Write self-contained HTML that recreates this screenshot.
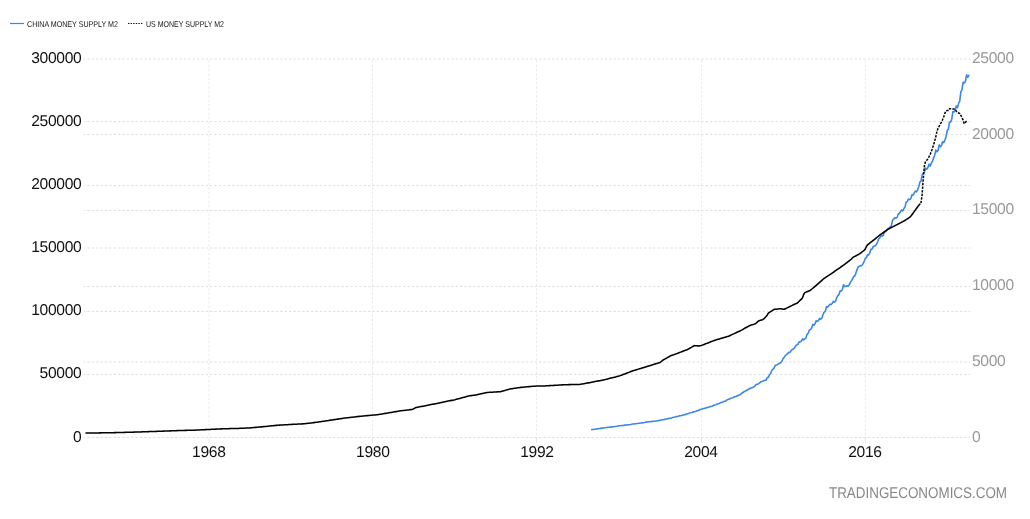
<!DOCTYPE html>
<html><head><meta charset="utf-8"><title>China Money Supply M2 vs US Money Supply M2</title>
<style>
html,body{margin:0;padding:0;background:#fff;}
body{width:1030px;height:519px;overflow:hidden;position:relative;}
svg{position:absolute;left:0;top:0;}
text{font-family:"Liberation Sans",Arial,sans-serif;text-rendering:geometricPrecision;}
.la{font-size:15.6px;fill:#111;text-anchor:end;letter-spacing:-0.3px;}
.ra{font-size:15.6px;fill:#999;text-anchor:start;letter-spacing:-0.3px;}
.xa{font-size:15.6px;fill:#111;text-anchor:middle;letter-spacing:-0.3px;}
.lg{font-size:8.4px;fill:#111;}
.wm{font-size:15.5px;fill:#888;}
</style></head>
<body>
<svg width="1030" height="519" viewBox="0 0 1030 519">
<g stroke="#dfdfdf" stroke-width="1" stroke-dasharray="2.4,1.985" stroke-dashoffset="0.9" fill="none">
<line x1="83.8" y1="59.00" x2="970.1" y2="59.00"/>
<line x1="83.8" y1="121.50" x2="970.1" y2="121.50"/>
<line x1="83.8" y1="134.50" x2="970.1" y2="134.50"/>
<line x1="83.8" y1="185.50" x2="970.1" y2="185.50"/>
<line x1="83.8" y1="210.50" x2="970.1" y2="210.50"/>
<line x1="83.8" y1="248.00" x2="970.1" y2="248.00"/>
<line x1="83.8" y1="286.50" x2="970.1" y2="286.50"/>
<line x1="83.8" y1="311.50" x2="970.1" y2="311.50"/>
<line x1="83.8" y1="362.00" x2="970.1" y2="362.00"/>
<line x1="83.8" y1="374.50" x2="970.1" y2="374.50"/>
<line x1="83.8" y1="437.50" x2="970.1" y2="437.50"/>
</g>
<g stroke="#ebebeb" stroke-width="1" stroke-dasharray="2.4,1.985" stroke-dashoffset="-1.1" fill="none">
<line x1="209.00" y1="59" x2="209.00" y2="437.5"/>
<line x1="372.50" y1="59" x2="372.50" y2="437.5"/>
<line x1="536.50" y1="59" x2="536.50" y2="437.5"/>
<line x1="701.50" y1="59" x2="701.50" y2="437.5"/>
<line x1="865.30" y1="59" x2="865.30" y2="437.5"/>
</g>
<g stroke="#e4e4e4" stroke-width="1" fill="none">
<line x1="209.00" y1="438" x2="209.00" y2="443"/>
<line x1="372.50" y1="438" x2="372.50" y2="443"/>
<line x1="536.50" y1="438" x2="536.50" y2="443"/>
<line x1="701.50" y1="438" x2="701.50" y2="443"/>
<line x1="865.30" y1="438" x2="865.30" y2="443"/>
</g>
<path d="M591.78 429.64 L592.92 429.49 L594.06 429.33 L595.20 429.17 L596.34 429.01 L597.48 428.85 L598.62 428.68 L599.75 428.51 L600.89 428.34 L602.03 428.16 L603.17 427.98 L604.31 427.80 L605.45 427.68 L606.59 427.57 L607.73 427.36 L608.87 427.29 L610.01 427.18 L611.15 426.90 L612.29 426.84 L613.42 426.71 L614.56 426.48 L615.70 426.44 L616.84 426.24 L617.98 425.92 L619.12 425.80 L620.26 425.71 L621.40 425.51 L622.54 425.45 L623.68 425.35 L624.82 425.09 L625.96 425.04 L627.09 424.92 L628.23 424.71 L629.37 424.68 L630.51 424.50 L631.65 424.21 L632.79 424.08 L633.93 423.97 L635.07 423.75 L636.21 423.68 L637.35 423.56 L638.49 423.27 L639.62 423.22 L640.76 423.08 L641.90 422.84 L643.04 422.80 L644.18 422.60 L645.32 422.27 L646.46 422.15 L647.60 422.04 L648.74 421.82 L649.88 421.75 L651.02 421.64 L652.16 421.37 L653.30 421.31 L654.43 421.18 L655.57 420.95 L656.71 420.92 L657.85 420.72 L658.99 420.41 L660.13 420.22 L661.27 420.05 L662.41 419.71 L663.55 419.60 L664.69 419.42 L665.83 418.98 L666.97 418.89 L668.10 418.68 L669.24 418.31 L670.38 418.25 L671.52 417.93 L672.66 417.42 L673.80 417.20 L674.94 417.01 L676.08 416.63 L677.22 416.50 L678.36 416.30 L679.50 415.80 L680.63 415.70 L681.77 415.46 L682.91 415.05 L684.05 414.98 L685.19 414.63 L686.33 414.05 L687.47 413.76 L688.61 413.50 L689.75 412.99 L690.89 412.81 L692.03 412.55 L693.17 411.87 L694.31 411.73 L695.44 411.41 L696.58 410.85 L697.72 410.75 L698.86 410.27 L700.00 409.48 L701.14 409.21 L702.28 408.98 L703.42 408.50 L704.56 408.34 L705.70 408.10 L706.84 407.48 L707.98 407.36 L709.11 407.06 L710.25 406.55 L711.39 406.47 L712.53 406.04 L713.67 405.33 L714.81 404.97 L715.95 404.65 L717.09 404.01 L718.23 403.79 L719.37 403.46 L720.51 402.63 L721.64 402.46 L722.78 402.06 L723.92 401.36 L725.06 401.25 L726.20 400.66 L727.34 399.69 L728.48 399.31 L729.62 398.97 L730.76 398.29 L731.90 398.07 L733.04 397.72 L734.18 396.85 L735.32 396.67 L736.45 396.25 L737.59 395.53 L738.73 395.40 L739.87 394.79 L741.01 393.79 L742.15 393.00 L743.29 392.22 L744.43 391.45 L745.57 391.01 L746.71 390.21 L747.85 389.72 L748.99 388.98 L750.12 388.55 L751.26 387.79 L752.40 387.65 L753.54 386.79 L754.68 386.49 L755.82 384.67 L756.96 384.26 L758.10 384.00 L759.24 383.21 L760.38 382.30 L761.52 381.48 L762.65 381.33 L763.79 380.86 L764.93 380.24 L766.07 380.23 L767.21 377.58 L768.35 377.43 L769.49 374.79 L770.63 373.48 L771.77 370.44 L772.91 369.19 L774.05 368.13 L775.19 365.60 L776.33 365.09 L777.46 364.70 L778.60 363.52 L779.74 363.45 L780.88 362.36 L782.02 360.90 L783.16 358.52 L784.30 357.14 L785.44 355.38 L786.58 354.61 L787.72 353.63 L788.86 352.35 L790.00 352.33 L791.13 350.64 L792.27 349.51 L793.41 349.07 L794.55 347.76 L795.69 345.79 L796.83 344.82 L797.97 344.35 L799.11 341.73 L800.25 341.83 L801.39 341.06 L802.53 338.86 L803.66 339.86 L804.80 338.88 L805.94 338.03 L807.08 334.32 L808.22 333.17 L809.36 329.93 L810.50 329.42 L811.64 327.90 L812.78 324.38 L813.92 325.13 L815.06 323.74 L816.20 320.66 L817.34 321.41 L818.47 320.68 L819.61 318.31 L820.75 319.23 L821.89 318.19 L823.03 314.47 L824.17 312.20 L825.31 311.38 L826.45 306.64 L827.59 307.09 L828.73 305.89 L829.87 304.32 L831.00 304.61 L832.14 303.46 L833.28 301.43 L834.42 302.24 L835.56 301.19 L836.70 297.76 L837.84 295.61 L838.98 294.57 L840.12 290.92 L841.26 291.01 L842.40 289.41 L843.54 284.75 L844.67 286.68 L845.81 286.30 L846.95 285.69 L848.09 286.12 L849.23 284.87 L850.37 282.38 L851.51 280.57 L852.65 278.72 L853.79 276.46 L854.93 275.76 L856.07 272.39 L857.21 269.12 L858.35 266.69 L859.48 266.13 L860.62 265.79 L861.76 265.64 L862.90 264.00 L864.04 261.69 L865.18 258.66 L866.32 257.62 L867.46 254.89 L868.60 255.02 L869.74 252.93 L870.88 249.30 L872.02 249.16 L873.15 246.71 L874.29 246.03 L875.43 245.64 L876.57 244.26 L877.71 241.78 L878.85 238.52 L879.99 237.64 L881.13 235.53 L882.27 235.95 L883.41 235.30 L884.55 231.53 L885.68 231.82 L886.82 229.78 L887.96 228.45 L889.10 228.74 L890.24 226.65 L891.38 225.79 L892.52 220.24 L893.66 219.19 L894.80 217.82 L895.94 218.10 L897.08 217.42 L898.22 214.00 L899.36 213.24 L900.49 211.67 L901.63 210.03 L902.77 210.80 L903.91 208.57 L905.05 206.87 L906.19 201.92 L907.33 201.73 L908.47 198.96 L909.61 199.60 L910.75 198.86 L911.89 194.92 L913.03 195.17 L914.16 193.14 L915.30 191.02 L916.44 191.87 L917.58 189.87 L918.72 186.70 L919.86 182.08 L921.00 181.11 L922.14 174.79 L923.28 173.20 L924.42 172.35 L925.56 167.98 L926.69 169.16 L927.83 167.74 L928.97 164.29 L930.11 166.11 L931.25 163.29 L932.39 161.43 L933.53 158.12 L934.67 155.22 L935.81 150.11 L936.95 151.92 L938.09 150.23 L939.23 144.89 L940.37 146.86 L941.50 145.59 L942.64 141.74 L943.78 142.57 L944.92 140.07 L946.06 136.68 L947.20 130.61 L948.34 129.28 L949.48 122.19 L950.62 122.09 L951.76 119.19 L952.90 111.61 L954.04 112.04 L955.17 109.90 L956.31 105.92 L957.45 107.75 L958.59 103.35 L959.73 101.17 L960.87 91.85 L962.01 89.67 L963.15 82.20 L964.29 82.97 L965.43 81.45 L966.57 74.83 L967.71 77.29 L968.84 75.33" fill="none" stroke="#3a87e8" stroke-width="1.6" stroke-linejoin="round" stroke-linecap="round"/>
<path d="M85.99 433.06 L87.13 433.05 L88.27 433.03 L89.41 433.02 L90.55 433.00 L91.69 432.99 L92.82 432.97 L93.96 432.96 L95.10 432.94 L96.24 432.93 L97.38 432.91 L98.52 432.90 L99.66 432.88 L100.80 432.87 L101.94 432.85 L103.08 432.84 L104.22 432.83 L105.36 432.81 L106.49 432.80 L107.63 432.78 L108.77 432.75 L109.91 432.73 L111.05 432.71 L112.19 432.69 L113.33 432.67 L114.47 432.64 L115.61 432.61 L116.75 432.58 L117.89 432.56 L119.03 432.53 L120.16 432.50 L121.30 432.47 L122.44 432.44 L123.58 432.41 L124.72 432.38 L125.86 432.35 L127.00 432.32 L128.14 432.29 L129.28 432.25 L130.42 432.22 L131.56 432.18 L132.70 432.15 L133.83 432.11 L134.97 432.08 L136.11 432.04 L137.25 432.01 L138.39 431.97 L139.53 431.94 L140.67 431.90 L141.81 431.86 L142.95 431.83 L144.09 431.79 L145.23 431.75 L146.37 431.71 L147.50 431.68 L148.64 431.64 L149.78 431.60 L150.92 431.56 L152.06 431.52 L153.20 431.48 L154.34 431.45 L155.48 431.41 L156.62 431.37 L157.76 431.33 L158.90 431.29 L160.04 431.25 L161.17 431.21 L162.31 431.17 L163.45 431.13 L164.59 431.09 L165.73 431.05 L166.87 431.01 L168.01 430.97 L169.15 430.93 L170.29 430.88 L171.43 430.84 L172.57 430.80 L173.71 430.76 L174.84 430.71 L175.98 430.67 L177.12 430.62 L178.26 430.58 L179.40 430.54 L180.54 430.49 L181.68 430.45 L182.82 430.42 L183.96 430.40 L185.10 430.38 L186.24 430.36 L187.38 430.33 L188.51 430.31 L189.65 430.28 L190.79 430.25 L191.93 430.22 L193.07 430.19 L194.21 430.16 L195.35 430.13 L196.49 430.07 L197.63 430.02 L198.77 429.96 L199.91 429.91 L201.05 429.85 L202.18 429.80 L203.32 429.74 L204.46 429.68 L205.60 429.63 L206.74 429.57 L207.88 429.51 L209.02 429.45 L210.16 429.40 L211.30 429.35 L212.44 429.30 L213.58 429.25 L214.72 429.19 L215.85 429.14 L216.99 429.09 L218.13 429.03 L219.27 428.98 L220.41 428.93 L221.55 428.87 L222.69 428.82 L223.83 428.78 L224.97 428.75 L226.11 428.72 L227.25 428.68 L228.39 428.65 L229.52 428.62 L230.66 428.60 L231.80 428.58 L232.94 428.56 L234.08 428.54 L235.22 428.52 L236.36 428.50 L237.50 428.45 L238.64 428.40 L239.78 428.35 L240.92 428.30 L242.06 428.25 L243.19 428.20 L244.33 428.15 L245.47 428.10 L246.61 428.04 L247.75 427.99 L248.89 427.94 L250.03 427.89 L251.17 427.79 L252.31 427.69 L253.45 427.59 L254.59 427.49 L255.73 427.39 L256.86 427.28 L258.00 427.18 L259.14 427.08 L260.28 426.97 L261.42 426.86 L262.56 426.75 L263.70 426.64 L264.84 426.53 L265.98 426.42 L267.12 426.31 L268.26 426.20 L269.40 426.08 L270.53 425.97 L271.67 425.85 L272.81 425.73 L273.95 425.61 L275.09 425.49 L276.23 425.37 L277.37 425.25 L278.51 425.18 L279.65 425.12 L280.79 425.05 L281.93 424.99 L283.07 424.92 L284.20 424.85 L285.34 424.79 L286.48 424.72 L287.62 424.65 L288.76 424.58 L289.90 424.51 L291.04 424.44 L292.18 424.39 L293.32 424.33 L294.46 424.27 L295.60 424.21 L296.74 424.15 L297.87 424.10 L299.01 424.04 L300.15 423.98 L301.29 423.92 L302.43 423.86 L303.57 423.80 L304.71 423.74 L305.85 423.60 L306.99 423.46 L308.13 423.33 L309.27 423.19 L310.41 423.04 L311.54 422.90 L312.68 422.76 L313.82 422.61 L314.96 422.46 L316.10 422.31 L317.24 422.16 L318.38 422.01 L319.52 421.85 L320.66 421.69 L321.80 421.52 L322.94 421.35 L324.08 421.18 L325.21 421.01 L326.35 420.84 L327.49 420.67 L328.63 420.49 L329.77 420.32 L330.91 420.14 L332.05 419.95 L333.19 419.79 L334.33 419.63 L335.47 419.47 L336.61 419.30 L337.75 419.13 L338.88 418.96 L340.02 418.79 L341.16 418.62 L342.30 418.45 L343.44 418.27 L344.58 418.09 L345.72 417.92 L346.86 417.79 L348.00 417.67 L349.14 417.54 L350.28 417.41 L351.42 417.29 L352.55 417.16 L353.69 417.03 L354.83 416.90 L355.97 416.77 L357.11 416.64 L358.25 416.50 L359.39 416.37 L360.53 416.27 L361.67 416.16 L362.81 416.05 L363.95 415.95 L365.09 415.84 L366.22 415.73 L367.36 415.62 L368.50 415.51 L369.64 415.40 L370.78 415.29 L371.92 415.18 L373.06 415.07 L374.20 414.99 L375.34 414.92 L376.48 414.84 L377.62 414.75 L378.76 414.56 L379.89 414.36 L381.03 414.17 L382.17 413.97 L383.31 413.77 L384.45 413.57 L385.59 413.37 L386.73 413.16 L387.87 412.98 L389.01 412.79 L390.15 412.59 L391.29 412.40 L392.43 412.21 L393.56 412.01 L394.70 411.81 L395.84 411.62 L396.98 411.42 L398.12 411.21 L399.26 411.01 L400.40 410.81 L401.54 410.68 L402.68 410.55 L403.82 410.42 L404.96 410.29 L406.10 410.16 L407.23 410.03 L408.37 409.90 L409.51 409.77 L410.65 409.63 L411.79 409.49 L412.93 409.20 L414.07 408.54 L415.21 407.82 L416.35 407.46 L417.49 407.25 L418.63 407.03 L419.77 406.81 L420.90 406.59 L422.04 406.37 L423.18 406.15 L424.32 405.92 L425.46 405.70 L426.60 405.47 L427.74 405.24 L428.88 405.02 L430.02 404.80 L431.16 404.57 L432.30 404.34 L433.44 404.12 L434.57 403.89 L435.71 403.65 L436.85 403.42 L437.99 403.19 L439.13 402.95 L440.27 402.71 L441.41 402.47 L442.55 402.25 L443.69 402.02 L444.83 401.79 L445.97 401.56 L447.11 401.33 L448.24 401.09 L449.38 400.86 L450.52 400.62 L451.66 400.38 L452.80 400.14 L453.94 399.90 L455.08 399.66 L456.22 399.36 L457.36 399.06 L458.50 398.75 L459.64 398.45 L460.78 398.14 L461.91 397.83 L463.05 397.51 L464.19 397.20 L465.33 396.88 L466.47 396.56 L467.61 396.23 L468.75 395.91 L469.89 395.76 L471.03 395.62 L472.17 395.47 L473.31 395.32 L474.45 395.18 L475.58 395.03 L476.72 394.86 L477.86 394.60 L479.00 394.33 L480.14 394.06 L481.28 393.79 L482.42 393.52 L483.56 393.25 L484.70 392.97 L485.84 392.70 L486.98 392.48 L488.12 392.41 L489.25 392.35 L490.39 392.28 L491.53 392.22 L492.67 392.15 L493.81 392.09 L494.95 392.02 L496.09 391.96 L497.23 391.89 L498.37 391.82 L499.51 391.76 L500.65 391.68 L501.79 391.36 L502.92 391.04 L504.06 390.71 L505.20 390.38 L506.34 390.05 L507.48 389.72 L508.62 389.38 L509.76 389.04 L510.90 388.85 L512.04 388.69 L513.18 388.52 L514.32 388.35 L515.46 388.18 L516.59 388.01 L517.73 387.84 L518.87 387.67 L520.01 387.50 L521.15 387.39 L522.29 387.27 L523.43 387.15 L524.57 387.04 L525.71 386.92 L526.85 386.80 L527.99 386.71 L529.13 386.62 L530.26 386.53 L531.40 386.44 L532.54 386.35 L533.68 386.26 L534.82 386.17 L535.96 386.08 L537.10 385.99 L538.24 385.98 L539.38 385.97 L540.52 385.95 L541.66 385.94 L542.80 385.93 L543.93 385.92 L545.07 385.91 L546.21 385.85 L547.35 385.78 L548.49 385.71 L549.63 385.64 L550.77 385.57 L551.91 385.50 L553.05 385.43 L554.19 385.36 L555.33 385.29 L556.47 385.22 L557.60 385.15 L558.74 385.08 L559.88 385.01 L561.02 384.94 L562.16 384.87 L563.30 384.80 L564.44 384.72 L565.58 384.69 L566.72 384.67 L567.86 384.65 L569.00 384.63 L570.14 384.62 L571.27 384.60 L572.41 384.58 L573.55 384.56 L574.69 384.55 L575.83 384.53 L576.97 384.51 L578.11 384.49 L579.25 384.48 L580.39 384.31 L581.53 384.11 L582.67 383.91 L583.81 383.70 L584.94 383.50 L586.08 383.29 L587.22 383.09 L588.36 382.88 L589.50 382.68 L590.64 382.47 L591.78 382.26 L592.92 382.03 L594.06 381.80 L595.20 381.57 L596.34 381.34 L597.48 381.11 L598.61 380.87 L599.75 380.64 L600.89 380.41 L602.03 380.17 L603.17 379.93 L604.31 379.69 L605.45 379.46 L606.59 379.18 L607.73 378.90 L608.87 378.62 L610.01 378.33 L611.15 378.05 L612.28 377.77 L613.42 377.48 L614.56 377.19 L615.70 376.90 L616.84 376.61 L617.98 376.32 L619.12 376.03 L620.26 375.61 L621.40 375.19 L622.54 374.76 L623.68 374.34 L624.82 373.91 L625.95 373.47 L627.09 373.04 L628.23 372.60 L629.37 372.15 L630.51 371.71 L631.65 371.26 L632.79 370.81 L633.93 370.48 L635.07 370.14 L636.21 369.81 L637.35 369.47 L638.49 369.13 L639.62 368.79 L640.76 368.45 L641.90 368.11 L643.04 367.76 L644.18 367.41 L645.32 367.06 L646.46 366.71 L647.60 366.36 L648.74 366.01 L649.88 365.66 L651.02 365.30 L652.16 364.94 L653.29 364.58 L654.43 364.22 L655.57 363.86 L656.71 363.49 L657.85 363.13 L658.99 362.76 L660.13 362.39 L661.27 361.51 L662.41 360.61 L663.55 359.71 L664.69 359.11 L665.83 358.50 L666.96 357.88 L668.10 357.26 L669.24 356.53 L670.38 355.77 L671.52 355.42 L672.66 355.07 L673.80 354.71 L674.94 354.29 L676.08 353.86 L677.22 353.43 L678.36 353.00 L679.50 352.57 L680.63 352.13 L681.77 351.69 L682.91 351.25 L684.05 350.81 L685.19 350.36 L686.33 349.91 L687.47 349.46 L688.61 348.84 L689.75 348.20 L690.89 347.57 L692.03 346.92 L693.17 346.28 L694.30 345.63 L695.44 345.70 L696.58 345.78 L697.72 345.86 L698.86 345.92 L700.00 345.75 L701.14 345.57 L702.28 345.14 L703.42 344.70 L704.56 344.26 L705.70 343.82 L706.84 343.37 L707.97 342.93 L709.11 342.48 L710.25 342.03 L711.39 341.57 L712.53 341.12 L713.67 340.66 L714.81 340.20 L715.95 339.88 L717.09 339.55 L718.23 339.22 L719.37 338.89 L720.51 338.56 L721.64 338.23 L722.78 337.89 L723.92 337.56 L725.06 337.22 L726.20 336.89 L727.34 336.55 L728.48 336.21 L729.62 335.70 L730.76 335.18 L731.90 334.66 L733.04 334.14 L734.18 333.62 L735.31 333.09 L736.45 332.56 L737.59 332.03 L738.73 331.50 L739.87 330.96 L741.01 330.42 L742.15 329.88 L743.29 329.17 L744.43 328.46 L745.57 327.79 L746.71 327.20 L747.85 326.61 L748.98 326.02 L750.12 325.42 L751.26 325.04 L752.40 324.70 L753.54 324.37 L754.68 324.03 L755.82 323.30 L756.96 322.31 L758.10 321.30 L759.24 320.69 L760.38 320.35 L761.52 320.01 L762.65 319.67 L763.79 318.88 L764.93 317.66 L766.07 316.44 L767.21 315.20 L768.35 313.04 L769.49 312.31 L770.63 311.58 L771.77 310.84 L772.91 310.10 L774.05 309.38 L775.19 309.26 L776.32 309.15 L777.46 309.03 L778.60 308.91 L779.74 308.79 L780.88 308.69 L782.02 308.93 L783.16 309.18 L784.30 309.30 L785.44 308.73 L786.58 308.16 L787.72 307.58 L788.86 307.00 L789.99 306.45 L791.13 305.90 L792.27 305.34 L793.41 304.79 L794.55 304.23 L795.69 303.76 L796.83 303.38 L797.97 302.32 L799.11 301.26 L800.25 300.19 L801.39 299.11 L802.53 297.84 L803.66 294.52 L804.80 292.64 L805.94 292.16 L807.08 291.67 L808.22 291.18 L809.36 290.69 L810.50 290.20 L811.64 289.24 L812.78 288.27 L813.92 287.30 L815.06 286.32 L816.20 285.33 L817.33 284.34 L818.47 283.34 L819.61 282.33 L820.75 281.32 L821.89 280.30 L823.03 279.28 L824.17 278.32 L825.31 277.57 L826.45 276.83 L827.59 276.08 L828.73 275.33 L829.87 274.57 L831.00 273.81 L832.14 273.05 L833.28 272.28 L834.42 271.51 L835.56 270.73 L836.70 269.94 L837.84 269.15 L838.98 268.35 L840.12 267.55 L841.26 266.75 L842.40 265.94 L843.54 265.13 L844.67 264.27 L845.81 263.40 L846.95 262.53 L848.09 261.66 L849.23 260.78 L850.37 259.89 L851.51 259.00 L852.65 257.62 L853.79 256.94 L854.93 256.32 L856.07 255.70 L857.21 255.08 L858.34 254.45 L859.48 253.83 L860.62 253.01 L861.76 252.14 L862.90 251.26 L864.04 250.38 L865.18 249.30 L866.32 246.74 L867.46 244.91 L868.60 244.02 L869.74 243.13 L870.88 242.23 L872.01 241.33 L873.15 240.43 L874.29 239.52 L875.43 238.61 L876.57 237.69 L877.71 236.77 L878.85 235.84 L879.99 234.91 L881.13 234.06 L882.27 233.28 L883.41 232.49 L884.55 231.70 L885.68 230.91 L886.82 230.11 L887.96 229.31 L889.10 228.62 L890.24 228.05 L891.38 227.48 L892.52 226.90 L893.66 226.32 L894.80 225.75 L895.94 225.17 L897.08 224.58 L898.22 224.00 L899.35 223.41 L900.49 222.83 L901.63 222.24 L902.77 221.65 L903.91 221.01 L905.05 220.28 L906.19 219.55 L907.33 218.82 L908.47 218.08 L909.61 217.35 L910.75 216.21 L911.89 214.70 L913.02 213.18 L914.16 211.64 L915.30 210.10 L916.44 208.54 L917.58 206.98 L918.72 205.40 L919.86 204.00" fill="none" stroke="#000" stroke-width="1.55" stroke-linejoin="round" stroke-linecap="round"/>
<path d="M920.99 203.20 L922.13 194.41 L923.27 178.50 L924.41 166.02 L925.55 161.36 L926.69 160.27 L927.83 158.90 L928.97 156.80 L930.11 154.52 L931.25 151.78 L932.39 148.48 L933.53 144.98 L934.66 141.18 L935.80 136.83 L936.94 131.36 L938.08 128.16 L939.22 126.06 L940.36 123.93 L941.50 122.10 L942.64 119.55 L943.78 116.66 L944.92 113.02 L946.06 110.91 L947.20 110.59 L948.33 110.44 L949.47 108.71 L950.61 108.77 L951.75 109.00 L952.89 109.00 L954.03 109.00 L955.17 109.38 L956.31 111.18 L957.45 112.40 L958.59 113.02 L959.73 113.47 L960.87 115.43 L962.00 117.56 L963.14 120.17 L964.28 123.69 L965.42 122.40 L966.56 121.01" fill="none" stroke="#000" stroke-width="1.5" stroke-dasharray="2.4,1.2" stroke-linejoin="round"/>
<line x1="10" y1="23.5" x2="24" y2="23.5" stroke="#3a87e8" stroke-width="1.2"/>
<line x1="128" y1="23.5" x2="143" y2="23.5" stroke="#111" stroke-width="1.2" stroke-dasharray="1.4,1.2"/>
<text class="lg" x="27" y="27" textLength="91" lengthAdjust="spacingAndGlyphs">CHINA MONEY SUPPLY M2</text>
<text class="lg" x="146" y="27" textLength="78" lengthAdjust="spacingAndGlyphs">US MONEY SUPPLY M2</text>
<text class="la" x="81.4" y="441.50">0</text>
<text class="la" x="81.4" y="378.40">50000</text>
<text class="la" x="81.4" y="315.30">100000</text>
<text class="la" x="81.4" y="252.20">150000</text>
<text class="la" x="81.4" y="189.10">200000</text>
<text class="la" x="81.4" y="126.00">250000</text>
<text class="la" x="81.4" y="62.90">300000</text>
<text class="ra" x="972.0" y="441.50">0</text>
<text class="ra" x="972.0" y="365.78">5000</text>
<text class="ra" x="972.0" y="290.06">10000</text>
<text class="ra" x="972.0" y="214.34">15000</text>
<text class="ra" x="972.0" y="138.62">20000</text>
<text class="ra" x="972.0" y="62.90">25000</text>
<text class="xa" x="208.82" y="456.6">1968</text>
<text class="xa" x="372.86" y="456.6">1980</text>
<text class="xa" x="536.90" y="456.6">1992</text>
<text class="xa" x="700.94" y="456.6">2004</text>
<text class="xa" x="864.98" y="456.6">2016</text>
<text class="wm" x="829" y="497.8" textLength="178" lengthAdjust="spacingAndGlyphs">TRADINGECONOMICS.COM</text>
</svg>
</body></html>
